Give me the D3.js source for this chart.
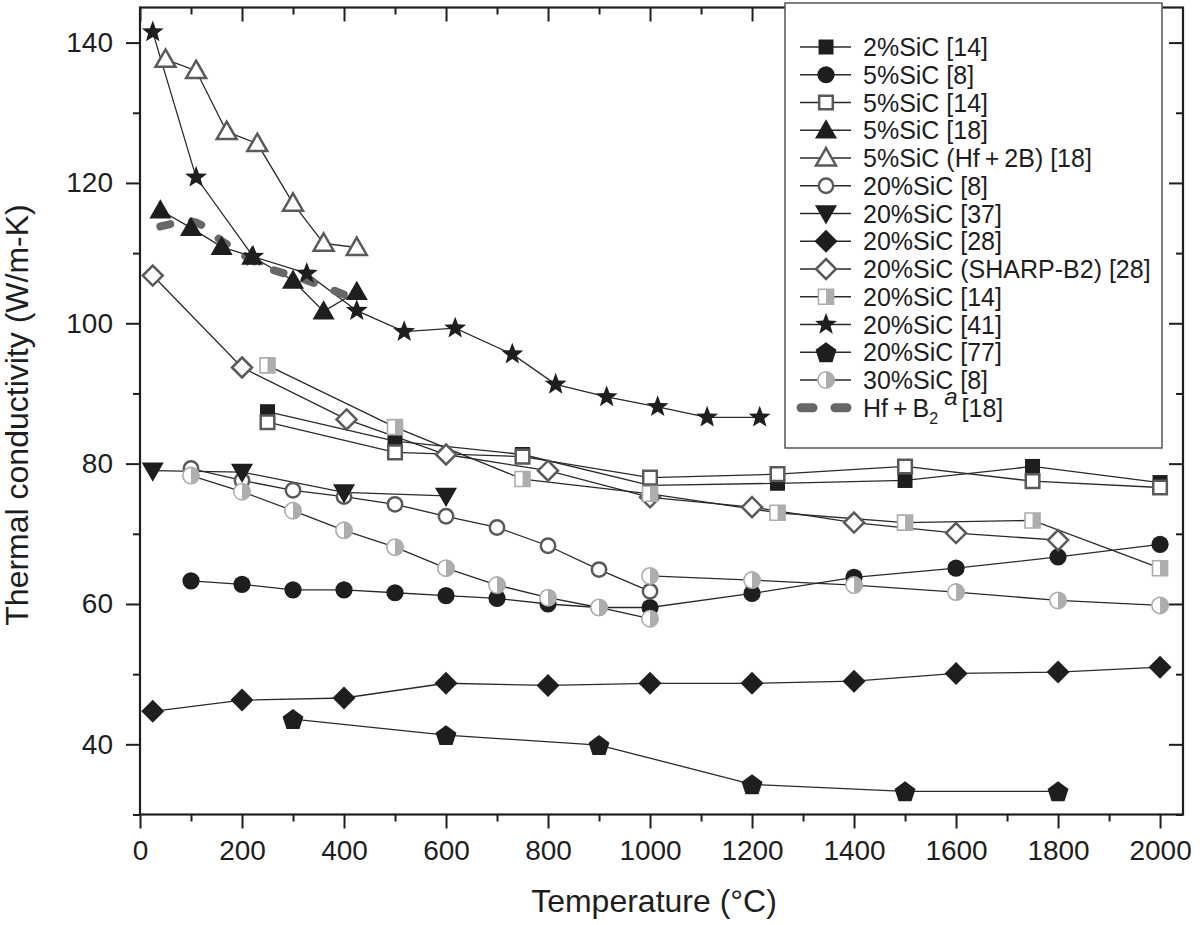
<!DOCTYPE html>
<html>
<head>
<meta charset="utf-8">
<script src="https://cdn.jsdelivr.net/npm/d3@7"></script>
<style>
  body { margin: 0; background: #fff; }
  svg { display: block; font-family: "Liberation Sans", Arial, Helvetica, sans-serif; }
</style>
</head>
<body>
<svg width="1200" height="925"></svg>
<script>
// --- data (temperature in °C, conductivity in W/m-K) ---
const tempTicks = d3.range(0, 2001, 200);
const tempMinor = d3.range(100, 2000, 200);
const kTicks = [40, 60, 80, 100, 120, 140];
const kMinor = [30, 50, 70, 90, 110, 130];

const sic2_14 = [[250, 87.4], [500, 83.2], [750, 81.3], [1000, 76.9], [1250, 77.2], [1500, 77.6], [1750, 79.6], [2000, 77.3]];
const sic5_8 = [[100, 63.3], [200, 62.8], [300, 62.0], [400, 62.0], [500, 61.6], [600, 61.2], [700, 60.8], [800, 60.0], [900, 59.5], [1000, 59.5], [1200, 61.5], [1400, 63.8], [1600, 65.1], [1800, 66.7], [2000, 68.5]];
const sic5_14 = [[250, 85.9], [500, 81.6], [750, 81.0], [1000, 78.0], [1250, 78.5], [1500, 79.6], [1750, 77.5], [2000, 76.6]];
const sic5_18 = [[40, 116.1], [100, 113.6], [160, 110.9], [220, 109.5], [300, 106.1], [360, 101.7], [425, 104.5]];
const sic5_hf2b_18 = [[50, 137.6], [110, 136.0], [170, 127.3], [230, 125.6], [300, 117.1], [360, 111.4], [425, 110.8]];
const sic20_8 = [[100, 79.3], [200, 77.6], [300, 76.2], [400, 75.3], [500, 74.2], [600, 72.5], [700, 70.9], [800, 68.3], [900, 64.9], [1000, 61.8]];
const sic20_37 = [[25, 79.0], [200, 78.8], [400, 75.9], [600, 75.4]];
const sic20_28 = [[25, 44.7], [200, 46.3], [400, 46.6], [600, 48.7], [800, 48.4], [1000, 48.7], [1200, 48.7], [1400, 49.0], [1600, 50.1], [1800, 50.3], [2000, 51.0]];
const sic20_sharp_28 = [[25, 106.8], [200, 93.7], [405, 86.3], [600, 81.3], [800, 79.0], [1000, 75.2], [1200, 73.8], [1400, 71.6], [1600, 70.1], [1800, 69.1]];
const sic20_14 = [[250, 94.0], [500, 85.2], [750, 77.8], [1000, 75.7], [1250, 73.0], [1500, 71.6], [1750, 71.9], [2000, 65.1]];
const sic20_41 = [[25, 141.5], [110, 120.8], [222, 109.5], [327, 107.1], [425, 101.8], [518, 98.8], [618, 99.3], [730, 95.6], [815, 91.3], [915, 89.5], [1015, 88.1], [1112, 86.6], [1215, 86.6]];
const sic20_77 = [[300, 43.6], [600, 41.3], [900, 39.9], [1200, 34.3], [1500, 33.3], [1800, 33.3]];
const sic30_8 = [[100, 78.3], [200, 76.0], [300, 73.3], [400, 70.5], [500, 68.1], [600, 65.1], [700, 62.7], [800, 60.9], [900, 59.5], [1000, 57.9], [1000, 64.0], [1200, 63.4], [1400, 62.7], [1600, 61.7], [1800, 60.5], [2000, 59.8]];
const hfB2_18 = [[40, 113.8], [100, 114.5], [165, 111.5], [240, 108.2], [320, 106.3], [400, 104.1]];

const seriesLabels = ["2%SiC [14]", "5%SiC [8]", "5%SiC [14]", "5%SiC [18]", "5%SiC (Hf\u2009+\u20092B) [18]",
  "20%SiC [8]", "20%SiC [37]", "20%SiC [28]", "20%SiC (SHARP-B2) [28]", "20%SiC [14]",
  "20%SiC [41]", "20%SiC [77]", "30%SiC [8]"];
const seriesValues = [sic2_14, sic5_8, sic5_14, sic5_18, sic5_hf2b_18, sic20_8, sic20_37,
  sic20_28, sic20_sharp_28, sic20_14, sic20_41, sic20_77, sic30_8];

// marker style per series: [shape, fill mode]
const seriesMarkers = [
  ["square", "filled"], ["circle", "filled"], ["square", "open"], ["triUp", "filled"], ["triUp", "open"],
  ["circle", "open"], ["triDown", "filled"], ["diamond", "filled"], ["diamond", "open"], ["square", "half"],
  ["star", "filled"], ["pentagon", "filled"], ["circle", "half"]
];

// --- layout ---
const svg = d3.select("svg");
const dark = "#1e1e1e", openGray = "#5a5a5a", halfGray = "#adadad", lineCol = "#2a2a2a";

const x = d3.scaleLinear().domain([0, 2045]).range([140, 1183]);
const y = d3.scaleLinear().domain([30, 145]).range([814.5, 7.5]);

// --- marker shapes ---
function poly(pts) { return "M" + pts.map(p => p[0].toFixed(2) + "," + p[1].toFixed(2)).join("L") + "Z"; }
function starPts(R, r) {
  return d3.range(10).map(i => {
    const a = -Math.PI / 2 + i * Math.PI / 5, rr = i % 2 ? r : R;
    return [rr * Math.cos(a), rr * Math.sin(a)];
  });
}
const shapes = {
  square: r => `M${-r},${-r}H${r}V${r}H${-r}Z`,
  circle: r => `M${r},0A${r},${r} 0 1 1 ${-r},0A${r},${r} 0 1 1 ${r},0Z`,
  triUp: r => poly([[0, -r * 1.05], [r * 1.05, r * 0.78], [-r * 1.05, r * 0.78]]),
  triDown: r => poly([[0, r * 1.05], [r * 1.05, -r * 0.78], [-r * 1.05, -r * 0.78]]),
  diamond: r => poly([[0, -r], [r, 0], [0, r], [-r, 0]]),
  star: r => poly(starPts(r, r * 0.42)),
  pentagon: r => poly(d3.range(5).map(i => {
    const a = -Math.PI / 2 + i * 2 * Math.PI / 5;
    return [r * Math.cos(a), r * Math.sin(a) + 1];
  }))
};
const rightHalf = {
  square: r => `M0,${-r}H${r}V${r}H0Z`,
  circle: r => `M0,${-r}A${r},${r} 0 0 1 0,${r}Z`
};
const sizes = {
  square: { filled: 7.5, open: 6.8, half: 7.5 },
  circle: { filled: 8.6, open: 7.2, half: 8.2 },
  triUp: { filled: 10.5, open: 9.5 },
  triDown: { filled: 10.5 },
  diamond: { filled: 11.5, open: 10 },
  star: { filled: 11.5 },
  pentagon: { filled: 11 }
};

function drawMarker(g, shape, mode, cx, cy) {
  const r = sizes[shape][mode];
  const m = g.append("g").attr("transform", `translate(${cx},${cy})`);
  if (mode === "filled") {
    m.append("path").attr("d", shapes[shape](r)).attr("fill", dark);
  } else if (mode === "open") {
    m.append("path").attr("d", shapes[shape](r)).attr("fill", "#fff")
      .attr("stroke", openGray).attr("stroke-width", 2.5);
  } else {
    m.append("path").attr("d", shapes[shape](r)).attr("fill", "#fff");
    m.append("path").attr("d", rightHalf[shape](r)).attr("fill", halfGray);
    m.append("path").attr("d", shapes[shape](r)).attr("fill", "none")
      .attr("stroke", halfGray).attr("stroke-width", 1.6);
  }
}

// --- axes ---
function styleAxis(g) {
  g.select(".domain").remove();
  g.selectAll(".tick line").attr("stroke", dark).attr("stroke-width", 2);
  g.selectAll(".tick text").attr("fill", dark).attr("font-size", 28)
    .attr("font-family", '"Liberation Sans", Arial, sans-serif');
}
svg.append("g").attr("transform", "translate(0,814.5)")
  .call(d3.axisBottom(x).tickValues(tempTicks).tickSize(14).tickPadding(12).tickFormat(d3.format("d")))
  .call(styleAxis);
svg.append("g").attr("transform", "translate(0,814.5)")
  .call(d3.axisBottom(x).tickValues(tempMinor).tickSize(7).tickFormat(""))
  .call(styleAxis);
svg.append("g").attr("transform", "translate(0,7.5)")
  .call(d3.axisTop(x).tickValues(tempTicks).tickSize(-14).tickFormat(""))
  .call(styleAxis);
svg.append("g").attr("transform", "translate(0,7.5)")
  .call(d3.axisTop(x).tickValues(tempMinor).tickSize(-7).tickFormat(""))
  .call(styleAxis);
svg.append("g").attr("transform", "translate(140,0)")
  .call(d3.axisLeft(y).tickValues(kTicks).tickSize(14).tickPadding(13).tickFormat(d3.format("d")))
  .call(styleAxis);
svg.append("g").attr("transform", "translate(140,0)")
  .call(d3.axisLeft(y).tickValues(kMinor).tickSize(7).tickFormat(""))
  .call(styleAxis);
svg.append("g").attr("transform", "translate(1183,0)")
  .call(d3.axisRight(y).tickValues(kTicks).tickSize(-14).tickFormat(""))
  .call(styleAxis);
svg.append("g").attr("transform", "translate(1183,0)")
  .call(d3.axisRight(y).tickValues(kMinor).tickSize(-7).tickFormat(""))
  .call(styleAxis);

// frame
svg.append("rect").attr("x", 140).attr("y", 7.5).attr("width", 1043).attr("height", 807)
  .attr("fill", "none").attr("stroke", dark).attr("stroke-width", 2.2);

// axis titles
svg.append("text").attr("x", 654).attr("y", 912).attr("text-anchor", "middle")
  .attr("font-size", 32).attr("fill", dark).text("Temperature (°C)");
svg.append("text").attr("transform", "translate(28,415) rotate(-90)").attr("text-anchor", "middle")
  .attr("font-size", 32).attr("fill", dark).text("Thermal conductivity (W/m-K)");

// --- series ---
const line = d3.line().x(d => x(d[0])).y(d => y(d[1]));
const linesG = svg.append("g");
seriesValues.forEach(vals => {
  linesG.append("path").attr("d", line(vals)).attr("fill", "none")
    .attr("stroke", lineCol).attr("stroke-width", 1.3);
});

// dashed Hf+B2 curve
svg.append("path")
  .attr("d", d3.line().x(d => x(d[0])).y(d => y(d[1])).curve(d3.curveMonotoneX)(hfB2_18))
  .attr("fill", "none").attr("stroke", "#676767").attr("stroke-width", 8)
  .attr("stroke-linecap", "round").attr("stroke-dasharray", "10 22");

const marksG = svg.append("g");
seriesValues.forEach((vals, i) => {
  const [shape, mode] = seriesMarkers[i];
  vals.forEach(d => drawMarker(marksG, shape, mode, x(d[0]), y(d[1])));
});

// --- legend ---
const lg = svg.append("g");
lg.append("rect").attr("x", 785).attr("y", 3).attr("width", 377).attr("height", 445)
  .attr("fill", "#fff").attr("stroke", "#555").attr("stroke-width", 1.5);
const rowY = i => 47 + i * 27.75;
seriesLabels.forEach((lab, i) => {
  const cy = rowY(i);
  lg.append("line").attr("x1", 800).attr("x2", 851).attr("y1", cy).attr("y2", cy)
    .attr("stroke", lineCol).attr("stroke-width", 1.3);
  drawMarker(lg, seriesMarkers[i][0], seriesMarkers[i][1], 826, cy);
  lg.append("text").attr("x", 863).attr("y", cy + 9).attr("font-size", 25).attr("fill", dark).text(lab);
});
const hy = rowY(13);
lg.append("line").attr("x1", 801).attr("x2", 848).attr("y1", hy).attr("y2", hy)
  .attr("stroke", "#676767").attr("stroke-width", 9).attr("stroke-linecap", "round")
  .attr("stroke-dasharray", "12 22");
const ht = lg.append("text").attr("x", 863).attr("y", hy + 9).attr("font-size", 25).attr("fill", dark);
ht.append("tspan").text("Hf\u2009+\u2009B");
ht.append("tspan").attr("font-size", 16).attr("dy", 7).text("2");
ht.append("tspan").attr("font-size", 24).attr("font-style", "italic").attr("dx", 6).attr("dy", -19).text("a");
ht.append("tspan").attr("dy", 12).attr("dx", 4).text("[18]");
</script>
</body>
</html>
